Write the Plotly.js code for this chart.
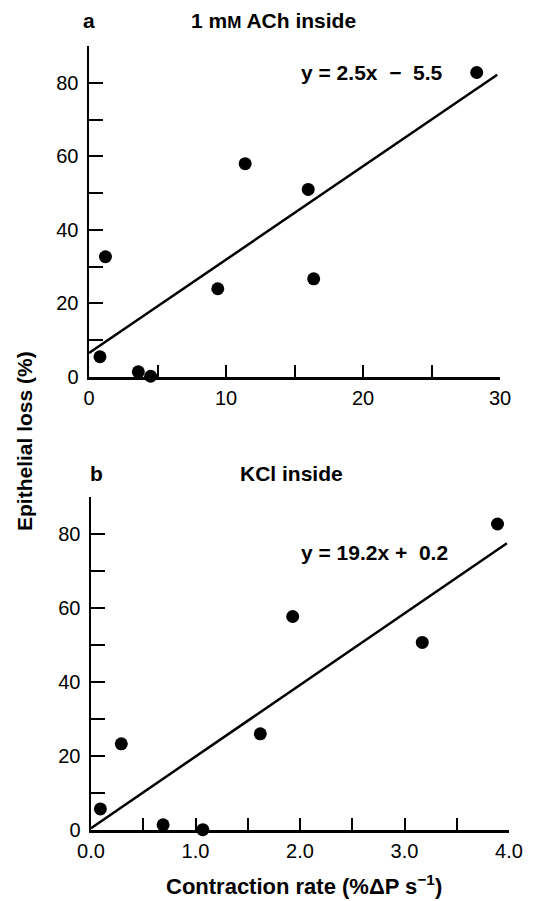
<!DOCTYPE html>
<html>
<head>
<meta charset="utf-8">
<script src="https://cdn.plot.ly/plotly-3.0.1.min.js"></script>
<style>html,body{margin:0;padding:0;background:#fff;}#chart{width:548px;height:901px;}</style>
</head>
<body>
<div id="chart"></div>
<script>
// Panel a: 1 mM ACh inside
const achRate = [0.8, 1.2, 3.6, 4.5, 9.4, 11.4, 16.0, 16.4, 28.3];
const achLoss = [5.5, 32.7, 1.4, 0.2, 24.0, 58.0, 51.0, 26.7, 82.8];
const achFitX = [0, 29.8];
const achFitY = [6.5, 82.2];
// Panel b: KCl inside
const kclRate = [0.09, 0.29, 0.69, 1.07, 1.62, 1.93, 3.17, 3.89];
const kclLoss = [5.7, 23.3, 1.4, 0.1, 26.0, 57.7, 50.7, 82.7];
const kclFitX = [0, 3.98];
const kclFitY = [0.5, 77.5];

const yTickVals = [0, 10, 20, 30, 40, 50, 60, 70, 80, 90];
const yTickText = ['0', '', '20', '', '40', '', '60', '', '80', ''];
const xTickValsA = [0, 5, 10, 15, 20, 25, 30];
const xTickTextA = ['0', '', '10', '', '20', '', '30'];
const xTickValsB = [0, 0.5, 1.0, 1.5, 2.0, 2.5, 3.0, 3.5, 4.0];
const xTickTextB = ['0.0', '', '1.0', '', '2.0', '', '3.0', '', '4.0'];

const FONT = 'Liberation Sans, Arial, Helvetica, sans-serif';
const W = 548, H = 901;
const px = v => v / W;
const py = v => (H - v) / H;

const marker = {color: '#000', size: 13};
const traces = [
  {x: achRate, y: achLoss, type: 'scatter', mode: 'markers', marker, xaxis: 'x', yaxis: 'y', cliponaxis: false},
  {x: achFitX, y: achFitY, type: 'scatter', mode: 'lines', line: {color: '#000', width: 2.5}, xaxis: 'x', yaxis: 'y'},
  {x: kclRate, y: kclLoss, type: 'scatter', mode: 'markers', marker, xaxis: 'x2', yaxis: 'y2', cliponaxis: false},
  {x: kclFitX, y: kclFitY, type: 'scatter', mode: 'lines', line: {color: '#000', width: 2.5}, xaxis: 'x2', yaxis: 'y2'}
];

function xAxis(domain, range, vals, text, anchor) {
  return {domain, range, anchor, tickmode: 'array', tickvals: vals, ticktext: text,
    ticks: 'inside', ticklen: 12, tickwidth: 2, tickcolor: '#000',
    showline: true, linecolor: '#000', linewidth: 2.5, showgrid: false, zeroline: false,
    tickfont: {family: FONT, size: 20, color: '#000'}, ticklabelstandoff: 1};
}
function yAxis(domain, anchor) {
  return {domain, range: [0, 90], anchor, tickmode: 'array', tickvals: yTickVals, ticktext: yTickText,
    ticks: 'inside', ticklen: 14, tickwidth: 2, tickcolor: '#000',
    showline: true, linecolor: '#000', linewidth: 2.5, showgrid: false, zeroline: false,
    tickfont: {family: FONT, size: 20, color: '#000'}, ticklabelstandoff: 4};
}

const bold = s => ({family: FONT, size: s, color: '#000', weight: 'bold'});
const ann = (text, x, y, s, extra) => Object.assign({text, x: px(x), y: py(y), xref: 'paper', yref: 'paper',
  xanchor: 'center', yanchor: 'middle', showarrow: false, font: bold(s)}, extra || {});

const layout = {
  width: W, height: H,
  margin: {l: 0, r: 0, t: 0, b: 0},
  paper_bgcolor: '#fff', plot_bgcolor: 'rgba(0,0,0,0)',
  showlegend: false,
  xaxis: xAxis([px(89), px(500)], [0, 30], xTickValsA, xTickTextA, 'y'),
  yaxis: yAxis([py(377), py(46)], 'x'),
  xaxis2: xAxis([px(91), px(509)], [0, 4.0], xTickValsB, xTickTextB, 'y2'),
  yaxis2: yAxis([py(830), py(497)], 'x2'),
  annotations: [
    ann('<b>a</b>', 89, 20, 21),
    ann('<b>1 m<span style="font-size:17px">M</span> ACh inside</b>', 273, 20, 21),
    ann('<b>y = 2.5x  \u2212  5.5</b>', 372, 72, 21),
    ann('<b>b</b>', 96, 473, 21),
    ann('<b>KCl inside</b>', 291, 473, 21),
    ann('<b>y = 19.2x +  0.2</b>', 374, 552, 21),
    ann('<b>Epithelial loss (%)</b>', 24, 441, 21, {textangle: -90}),
    ann('<b>Contraction rate (%\u0394P s<sup>\u22121</sup>)</b>', 304, 885, 22)
  ]
};

Plotly.newPlot('chart', traces, layout, {displayModeBar: false, staticPlot: true});
</script>
</body>
</html>
